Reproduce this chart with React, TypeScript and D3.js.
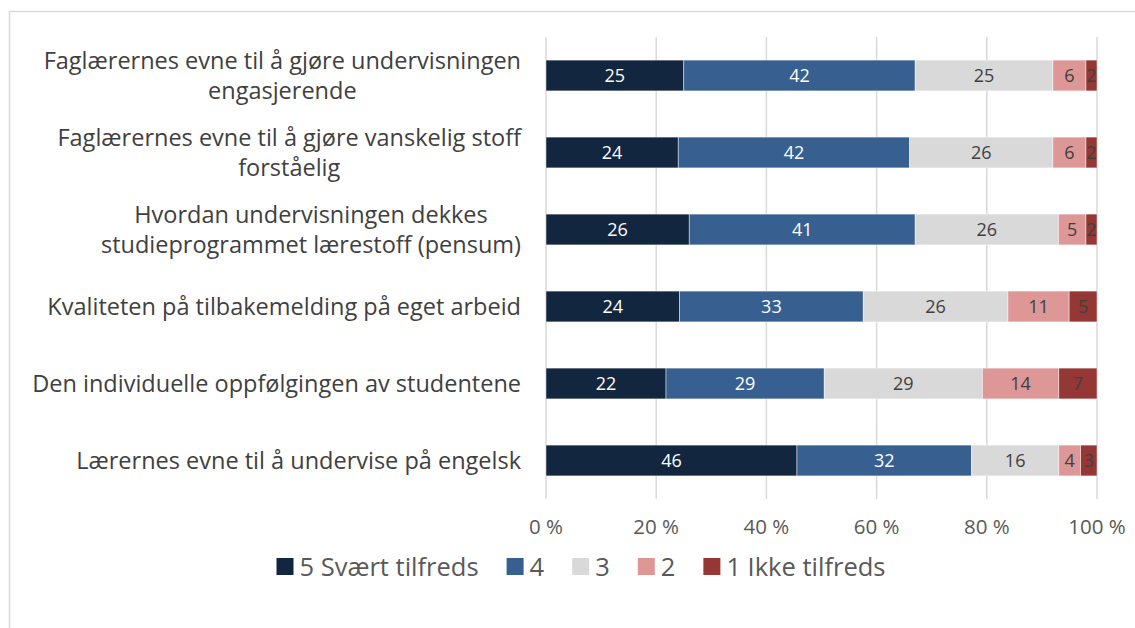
import * as d3 from 'd3';
import * as React from 'react';

const { useRef, useEffect } = React;

const width = 1135;
const height = 628;
const margin = { top: 37, right: 38, bottom: 129, left: 546 };

const categories = [
  'Faglærernes evne til å gjøre undervisningen\nengasjerende',
  'Faglærernes evne til å gjøre vanskelig stoff\nforståelig',
  'Hvordan undervisningen dekkes\nstudieprogrammet lærestoff (pensum)',
  'Kvaliteten på tilbakemelding på eget arbeid',
  'Den individuelle oppfølgingen av studentene',
  'Lærernes evne til å undervise på engelsk',
];

const seriesNames = ['5 Svært tilfreds', '4', '3', '2', '1 Ikke tilfreds'];
const seriesColors = ['#13263f', '#376091', '#d9d9d9', '#dd9797', '#953735'];
const labelColors = ['#ffffff', '#ffffff', '#404040', '#404040', '#404040'];

// values per category, in the order of seriesNames
const s5 = [25, 24, 26, 24, 22, 46];
const s4 = [42, 42, 41, 33, 29, 32];
const s3 = [25, 26, 26, 26, 29, 16];
const s2 = [6, 6, 5, 11, 14, 4];
const s1 = [2, 2, 2, 5, 7, 3];

const xTicks = [0, 0.2, 0.4, 0.6, 0.8, 1];

const font = '"Open Sans", sans-serif';

export default () => {
  const rootRef = useRef<HTMLDivElement>(null);

  useEffect(() => {
    const rootEl = rootRef.current;
    if (!rootEl) return;
    document.body.style.margin = '0';
    d3.select(rootEl).selectAll('*').remove();

    const rows = categories.map((c, i) => ({
      name: c,
      '0': s5[i],
      '1': s4[i],
      '2': s3[i],
      '3': s2[i],
      '4': s1[i],
    }));
    const keys = seriesNames.map((_, i) => String(i));

    const stacked = d3
      .stack<any>()
      .keys(keys)
      .offset(d3.stackOffsetExpand)(rows);

    const x = d3
      .scaleLinear()
      .domain([0, 1])
      .range([margin.left, width - margin.right]);

    const y = d3
      .scaleBand()
      .domain(categories)
      .range([margin.top, height - margin.bottom])
      .paddingInner(0.6)
      .paddingOuter(0.3);

    const svg = d3
      .select(rootEl)
      .append('svg')
      .attr('width', width)
      .attr('height', height)
      .style('display', 'block')
      .style('font-family', font);

    svg.append('rect').attr('width', width).attr('height', height).attr('fill', '#fff');

    svg
      .append('rect')
      .attr('x', 9.5)
      .attr('y', 11.5)
      .attr('width', width + 20)
      .attr('height', height + 20)
      .attr('fill', 'none')
      .attr('stroke', '#d9d9d9')
      .attr('stroke-width', 1.5);

    // gridlines
    svg
      .append('g')
      .selectAll('line')
      .data(xTicks)
      .join('line')
      .attr('x1', d => x(d))
      .attr('x2', d => x(d))
      .attr('y1', margin.top)
      .attr('y2', height - margin.bottom)
      .attr('stroke', '#d9d9d9')
      .attr('stroke-width', 1.5);

    // x tick labels
    svg
      .append('g')
      .selectAll('text')
      .data(xTicks)
      .join('text')
      .attr('x', d => x(d))
      .attr('y', 527)
      .attr('dy', '0.35em')
      .attr('text-anchor', 'middle')
      .attr('fill', '#595959')
      .style('font-size', '20.5px')
      .text(d => `${Math.round(d * 100)} %`);

    // bars
    const layer = svg
      .append('g')
      .selectAll('g')
      .data(stacked)
      .join('g')
      .attr('fill', (d, i) => seriesColors[i]);

    layer
      .selectAll('rect')
      .data(d => d)
      .join('rect')
      .attr('x', d => x(d[0]))
      .attr('width', d => x(d[1]) - x(d[0]))
      .attr('y', d => y(d.data.name) as number)
      .attr('height', y.bandwidth())
      .attr('stroke', '#ffffff')
      .attr('stroke-opacity', 0.6)
      .attr('stroke-width', 0.75);

    // bar value labels
    stacked.forEach((s, si) => {
      svg
        .append('g')
        .selectAll('text')
        .data(s)
        .join('text')
        .attr('x', d => (x(d[0]) + x(d[1])) / 2)
        .attr('y', d => (y(d.data.name) as number) + y.bandwidth() / 2)
        .attr('dy', '0.35em')
        .attr('text-anchor', 'middle')
        .attr('fill', labelColors[si])
        .style('font-size', '18px')
        .text(d => d.data[s.key]);
    });

    // category labels: lines centred in a block, block right-aligned
    const catG = svg.append('g').attr('fill', '#404040').style('font-size', '23.5px');
    categories.forEach(c => {
      const lines = c.split('\n');
      const cy = (y(c) as number) + y.bandwidth() / 2;
      const lineH = 30;
      const t = catG
        .append('text')
        .attr('text-anchor', 'middle');
      lines.forEach((l, li) => {
        t.append('tspan')
          .attr('y', cy + (li - (lines.length - 1) / 2) * lineH)
          .attr('dy', '0.35em')
          .text(l);
      });
      const tspans = t.selectAll<SVGTSpanElement, unknown>('tspan').nodes();
      const maxW = d3.max(tspans, n => n.getComputedTextLength()) || 0;
      const cx = 521 - maxW / 2;
      t.selectAll('tspan').attr('x', cx);
    });

    // legend
    const legG = svg.append('g').style('font-size', '25.5px').attr('fill', '#595959');
    const sq = 17;
    const gap = 6;
    const spacing = 28;
    const items = seriesNames.map((n, i) => {
      const g = legG.append('g');
      g.append('rect')
        .attr('y', 558)
        .attr('width', sq)
        .attr('height', sq)
        .attr('fill', seriesColors[i]);
      const t = g
        .append('text')
        .attr('x', sq + gap)
        .attr('y', 567)
        .attr('dy', '0.35em')
        .text(n);
      const w = (t.node() as SVGTextElement).getComputedTextLength();
      return { g, w: sq + gap + w };
    });
    const total = d3.sum(items, d => d.w) + spacing * (items.length - 1);
    let cur = 581 - total / 2;
    items.forEach(it => {
      it.g.attr('transform', `translate(${cur},0)`);
      cur += it.w + spacing;
    });
  }, []);

  return <div ref={rootRef} />;
};
